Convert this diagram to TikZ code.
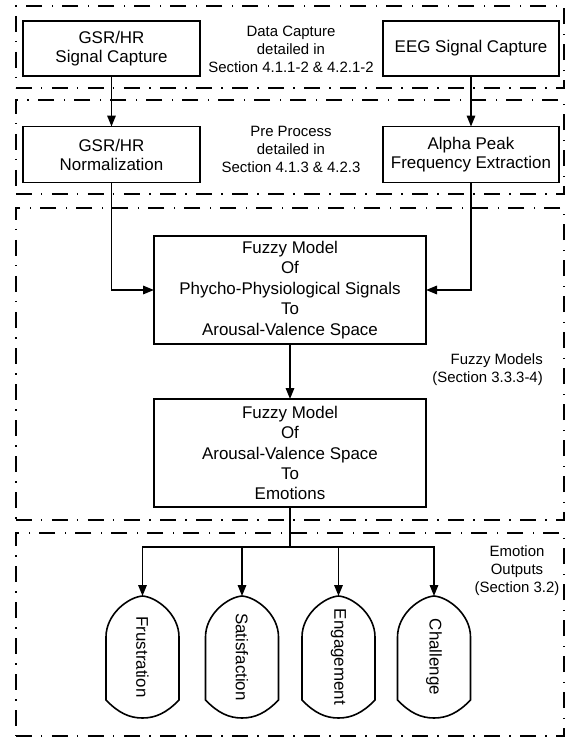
\documentclass[tikz,border=0pt]{standalone}
\usepackage{fontspec}
\setmainfont{Liberation Sans}
\usetikzlibrary{arrows.meta}
\begin{document}
\begin{tikzpicture}[x=1bp,y=-1bp,
  box/.style={draw, line width=1.6bp, inner sep=0pt, outer sep=0pt, align=center, font=\fontsize{17}{19}\selectfont},
  fbox/.style={box, font=\fontsize{17}{20.5}\selectfont},
  grp/.style={draw, line width=2bp, dash pattern=on 16bp off 9bp on 1.5bp off 9.5bp, inner sep=0pt, outer sep=0pt},
  lbl/.style={align=center, inner sep=0pt, font=\fontsize{15}{18}\selectfont},
  arr/.style={line width=1.6bp, -{Triangle[length=11bp,width=8.5bp]}},
  ln/.style={line width=1.6bp},
  emoshape/.style={line width=1.6bp},
  emo/.style={inner sep=0pt, font=\fontsize{17}{19}\selectfont}
]
\useasboundingbox (0,0) rectangle (570,737);

% groups
\node[grp, minimum width=548bp, minimum height=82bp] (g1) at (290,47) {};
\node[grp, minimum width=548bp, minimum height=94bp] (g2) at (290,147) {};
\node[grp, minimum width=548bp, minimum height=312bp] (g3) at (290,364) {};
\node[grp, minimum width=548bp, minimum height=203bp] (g4) at (290,634.5) {};

% group labels
\node[lbl] (l1) at (291,49) {Data Capture\\detailed in\\Section 4.1.1-2 \& 4.2.1-2};
\node[lbl] (l2) at (291,149) {Pre Process\\detailed in\\Section 4.1.3 \& 4.2.3};
\node[lbl, align=right, anchor=east] (l3) at (543,370) {Fuzzy Models\\(Section 3.3.3-4)};
\node[lbl] (l4) at (517,571) {Emotion\\Outputs\\(Section 3.2)};

% boxes
\node[box, minimum width=177bp, minimum height=55bp] (gsr1) at (111.5,48.5) {GSR/HR\\Signal Capture};
\node[box, minimum width=176bp, minimum height=55bp] (eeg) at (471,48.5) {EEG Signal Capture};
\node[box, minimum width=177bp, minimum height=56bp] (gsr2) at (111.5,154.5) {GSR/HR\\Normalization};
\node[box, minimum width=176bp, minimum height=56bp] (alpha) at (471,154.5) {Alpha Peak\\Frequency Extraction};
\node[fbox, minimum width=272bp, minimum height=108bp] (fm1) at (290,290) {Fuzzy Model\\Of\\Phycho-Physiological Signals\\To\\Arousal-Valence Space};
\node[fbox, minimum width=272bp, minimum height=108bp] (fm2) at (290,453) {Fuzzy Model\\Of\\Arousal-Valence Space\\To\\Emotions};

% connectors
\draw[arr] (gsr1) -- (gsr2);
\draw[arr] (eeg) -- (alpha);
\draw[arr] (gsr2.south) |- (fm1.west);
\draw[arr] (alpha.south) |- (fm1.east);
\draw[arr] (fm1) -- (fm2);
\coordinate (split) at (290,547);
\draw[ln] (fm2.south) -- (split);

% emotion outputs
\foreach \n/\x/\t in {fr/142.5/Frustration, sa/242/Satisfaction, en/338.5/Engagement, ch/434/Challenge} {
  \draw[emoshape] (\x-36.5,637) .. controls (\x-36.5,614) and (\x-14,597) .. (\x,596)
     .. controls (\x+14,597) and (\x+36.5,614) .. (\x+36.5,637) -- (\x+36.5,700)
     .. controls (\x+24,713) and (\x+13,718) .. (\x,718)
     .. controls (\x-13,718) and (\x-24,713) .. (\x-36.5,700) -- cycle;
  \coordinate (\n-top) at (\x,596);
  \node[emo, rotate=-90] (\n) at (\x,657) {\t};
  \draw[arr] (split) -| (\n-top);
}
\end{tikzpicture}
\end{document}
